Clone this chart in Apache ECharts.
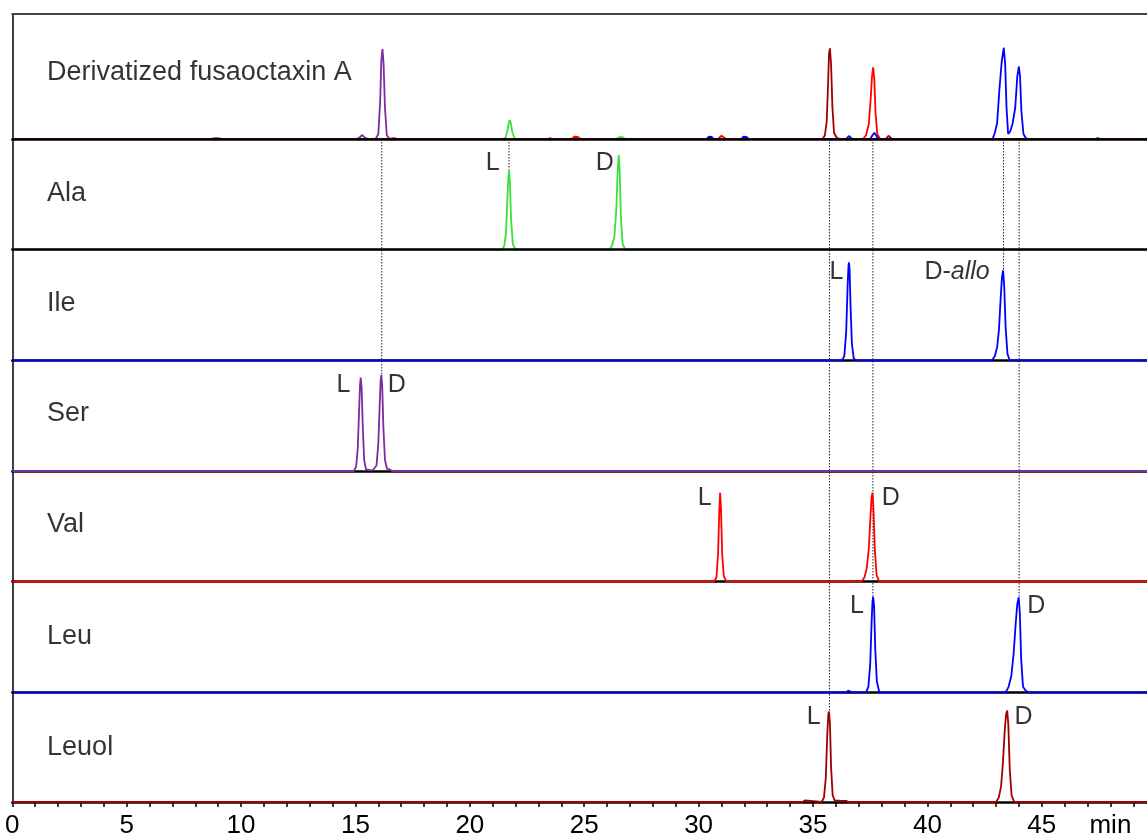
<!DOCTYPE html>
<html><head><meta charset="utf-8">
<script src="https://cdn.jsdelivr.net/npm/echarts@6/dist/echarts.min.js"></script>
<style>html,body{margin:0;padding:0;background:#fff}#c{width:1147px;height:839px}</style>
</head><body><div id="c"></div>
<script>
// ---------- DATA (retention time in min, intensity in % of panel height) ----------
const xMin = 0, xMax = 49.6;
const panelNames = ['Derivatized fusaoctaxin A', 'Ala', 'Ile', 'Ser', 'Val', 'Leu', 'Leuol'];
const tickLabelValues = [0, 5, 10, 15, 20, 25, 30, 35, 40, 45];
const unitLabel = 'min';
const unitLabelAt = 48;

// Top panel: overlay of the five derivative traces
const topPurple = [[0,0],[8.7,0],[8.85,0.6],[8.93,2.2],[9.0,0.6],[9.15,0],[15.05,0],[15.18,1.2],[15.3,3.2],[15.4,1.2],[15.55,0],[15.88,0],[16.0,4],[16.08,30],[16.13,62],[16.18,72],[16.23,60],[16.29,25],[16.37,3],[16.5,0],[16.7,0.8],[16.85,0],[49.6,0]];
const topGreen = [[0,0],[21.45,0],[21.57,1.5],[21.65,7],[21.7,13],[21.75,15.2],[21.8,12],[21.86,5],[21.95,0.8],[22.05,0],[26.4,0],[26.52,1.5],[26.6,2.5],[26.68,1.4],[26.8,0],[49.6,0]];
const topRed = [[0,0],[23.4,0],[23.5,0.8],[23.6,0],[24.45,0],[24.57,1.8],[24.64,3],[24.72,1.6],[24.85,0],[30.85,0],[30.93,1.6],[31.0,2.6],[31.08,1.4],[31.2,0],[37.18,0],[37.32,3],[37.44,12],[37.52,32],[37.58,50],[37.63,57.4],[37.68,48],[37.73,22],[37.81,4],[37.93,0],[49.6,0]];
const topBlue = [[0,0],[30.35,0],[30.44,1.8],[30.5,3],[30.57,1.6],[30.66,0],[31.88,0],[31.95,1.8],[32.02,3],[32.09,1.6],[32.18,0],[33.07,0],[33.15,1.6],[33.23,0],[36.45,0],[36.52,1.6],[36.57,2.4],[36.63,1.4],[36.72,0],[37.5,0],[37.6,3],[37.68,5],[37.76,2.8],[37.86,0],[42.85,0],[42.95,5],[43.05,13],[43.15,40],[43.25,62],[43.34,73],[43.4,60],[43.46,25],[43.53,4],[43.62,6],[43.72,12],[43.84,25],[43.93,50],[44.0,58],[44.05,50],[44.11,22],[44.2,4],[44.3,0.8],[44.4,0],[47.35,0],[47.45,0.8],[47.55,0],[49.6,0]];
const topDarkRed = [[0,0],[35.42,0],[35.52,3],[35.6,14],[35.66,45],[35.7,68],[35.74,72.5],[35.79,60],[35.85,25],[35.92,5],[36.04,1],[36.2,0],[38.18,0],[38.25,1.5],[38.3,2.6],[38.36,1.4],[38.45,0],[49.6,0]];

// Standards
const alaTrace = [[0,0],[21.4,0],[21.5,3],[21.58,15],[21.64,45],[21.68,64],[21.71,71.8],[21.75,62],[21.8,28],[21.88,5],[22.0,0],[26.1,0],[26.22,4],[26.32,12],[26.4,35],[26.46,70],[26.51,85.4],[26.55,72],[26.6,30],[26.68,5],[26.8,0],[49.6,0]];
const ileTrace = [[0,0],[36.27,0],[36.37,4],[36.45,25],[36.51,65],[36.55,85],[36.57,88.5],[36.6,82],[36.64,50],[36.7,15],[36.78,2],[36.85,0],[42.83,0],[42.95,4],[43.05,12],[43.13,28],[43.2,55],[43.26,75],[43.31,81.3],[43.36,66],[43.42,30],[43.5,6],[43.6,0],[49.6,0]];
const serTrace = [[0,0],[14.93,0],[15.03,4],[15.1,20],[15.16,55],[15.2,78],[15.23,84.4],[15.27,75],[15.32,40],[15.38,10],[15.46,1.5],[15.6,1],[15.75,0.5],[15.82,0],[15.92,5],[16.0,25],[16.06,60],[16.1,82],[16.13,86.7],[16.17,76],[16.22,40],[16.29,10],[16.38,2],[16.48,1.5],[16.6,0],[49.6,0]];
const valTrace = [[0,0],[30.68,0],[30.78,4],[30.85,25],[30.9,62],[30.94,80.4],[30.98,65],[31.03,25],[31.1,5],[31.22,0],[37.12,0],[37.25,4],[37.35,12],[37.44,30],[37.51,58],[37.56,76],[37.6,80.4],[37.64,68],[37.7,30],[37.78,6],[37.9,0],[49.6,0]];
const leuTrace = [[0,0],[36.45,0],[36.54,1.5],[36.57,2.7],[36.62,1.2],[36.7,0],[37.32,0],[37.42,5],[37.5,25],[37.56,62],[37.6,82],[37.63,86.4],[37.67,78],[37.72,40],[37.79,10],[37.9,0],[43.42,0],[43.55,5],[43.67,15],[43.77,35],[43.86,62],[43.93,80],[43.99,85.8],[44.04,72],[44.1,30],[44.18,5],[44.3,1.5],[44.45,0],[49.6,0]];
const leuolTrace = [[0,0],[34.55,0],[34.64,1.5],[34.72,0],[35.38,0],[35.48,4],[35.56,22],[35.62,60],[35.67,80],[35.7,82.5],[35.74,72],[35.79,32],[35.86,6],[35.95,1.5],[36.2,1.2],[36.45,1],[36.55,0],[43.0,0],[43.12,4],[43.22,14],[43.3,35],[43.38,65],[43.44,80],[43.49,83.4],[43.54,70],[43.6,30],[43.68,6],[43.8,0],[49.6,0]];

// Peak annotations: [panel, time, height, text]
const peakLabels = [
  [1, 21.0, 78, 'L'], [1, 25.9, 78, 'D'],
  [2, 36.03, 80, 'L'], [2, 41.3, 80, 'D-allo'],
  [3, 14.47, 78, 'L'], [3, 16.81, 78, 'D'],
  [4, 30.27, 75.5, 'L'], [4, 38.4, 75.5, 'D'],
  [5, 36.92, 77.5, 'L'], [5, 44.76, 77.5, 'D'],
  [6, 35.03, 77, 'L'], [6, 44.2, 77, 'D']
];
// Guide lines: time, end level (panel index from bottom: 0 = Leuol baseline, 6 = top panel baseline)
const guideTimes = [16.15, 21.71, 35.72, 37.62, 43.33, 44.01];
const guideEnds  = [3.87, 5.72, 0.83, 1.86, 4.81, 1.86];
const nameX = 1.52;
const nameY = [53, 51, 51.5, 52, 52, 50.5, 50];

// ---------- STYLE ----------
const C = {purple:'#7B2C9E', green:'#3CE03C', blue:'#0000FF', red:'#FF0000', darkred:'#A00000'};
const FONT = 'Liberation Sans, Arial, sans-serif';
const left = 12.3, top0 = 14, h0 = 125, h = 110.67;

const traces = [
  [{d:topPurple,c:C.purple},{d:topGreen,c:C.green},{d:topRed,c:C.red},{d:topBlue,c:C.blue},{d:topDarkRed,c:C.darkred}],
  [{d:alaTrace,c:C.green}],
  [{d:ileTrace,c:C.blue}],
  [{d:serTrace,c:C.purple}],
  [{d:valTrace,c:C.red}],
  [{d:leuTrace,c:C.blue}],
  [{d:leuolTrace,c:C.darkred}]
];

const grids = [], xAxes = [], yAxes = [], series = [];
for (let k = 0; k < 7; k++) {
  const gTop = k === 0 ? top0 : top0 + h0 + (k - 1) * h;
  const gH = k === 0 ? h0 : h;
  grids.push({left: left, right: 0, top: gTop, height: gH});
  const isBottom = k === 6;
  xAxes.push({
    type: 'value', gridIndex: k, min: xMin, max: xMax, interval: 1,
    z: k <= 1 ? 4 : 0,
    axisLine: {show: true, onZero: false, lineStyle: {color: '#000', width: 2.5}},
    axisTick: {show: isBottom, inside: false, length: 5, lineStyle: {color: '#000', width: 1.5}},
    axisLabel: {show: isBottom, interval: 0, margin: 11, color: '#000', fontSize: 26, fontFamily: FONT,
      showMinLabel: true, showMaxLabel: false,
      formatter: v => tickLabelValues.indexOf(v) >= 0 ? String(v) : (v === unitLabelAt ? unitLabel : '')},
    splitLine: {show: false}
  });
  yAxes.push({
    type: 'value', gridIndex: k, min: 0, max: 100,
    axisLine: {show: true, onZero: false, lineStyle: {color: '#000', width: 1.5}},
    axisTick: {show: false}, axisLabel: {show: false}, splitLine: {show: false}
  });
  traces[k].forEach(t => series.push({
    type: 'line', xAxisIndex: k, yAxisIndex: k, data: t.d, symbol: 'none', clip: false,
    lineStyle: {color: t.c, width: 1.8}, itemStyle: {color: t.c}, z: 3, silent: true
  }));
  // panel name
  series.push({
    type: 'scatter', xAxisIndex: k, yAxisIndex: k, symbolSize: 0, silent: true, z: 5,
    data: [{value: [nameX, nameY[k]], name: panelNames[k]}],
    label: {show: true, position: 'right', distance: 0, formatter: p => p.name,
      color: '#000', fontSize: 27, fontFamily: FONT}
  });
  // peak labels
  const pl = peakLabels.filter(p => p[0] === k);
  if (pl.length) series.push({
    type: 'scatter', xAxisIndex: k, yAxisIndex: k, symbolSize: 0, silent: true, z: 5,
    data: pl.map(p => ({value: [p[1], p[2]], name: p[3]})),
    label: {show: true, position: [0, 0], align: 'center', verticalAlign: 'middle',
      color: '#000', fontSize: 25, fontFamily: FONT,
      formatter: p => p.name === 'D-allo' ? 'D-{i|allo}' : p.name,
      rich: {i: {fontStyle: 'italic', fontSize: 25, fontFamily: FONT, color: '#000'}}}
  });
}
// overlay grid for dotted guide lines (index 7)
grids.push({left: left, right: 0, top: top0 + h0, height: 6 * h});
xAxes.push({type: 'value', gridIndex: 7, min: xMin, max: xMax, show: false});
yAxes.push({type: 'value', gridIndex: 7, min: 0, max: 6, show: false});
guideTimes.forEach((t, i) => series.push({
  type: 'line', xAxisIndex: 7, yAxisIndex: 7, data: [[t, 6], [t, guideEnds[i]]], symbol: 'none', clip: false,
  lineStyle: {color: '#222', width: 1, type: [1.5, 1.5]}, z: 2, silent: true
}));
// top border axis (index 8) on top grid
xAxes.push({type: 'value', gridIndex: 0, position: 'top', min: xMin, max: xMax,
  axisLine: {show: true, onZero: false, lineStyle: {color: '#444', width: 2}},
  axisTick: {show: false}, axisLabel: {show: false}, splitLine: {show: false}});

const chart = echarts.init(document.getElementById('c'), null, {renderer: 'canvas'});
chart.setOption({
  animation: false, backgroundColor: '#fff',
  grid: grids, xAxis: xAxes, yAxis: yAxes, series: series
});
</script></body></html>
